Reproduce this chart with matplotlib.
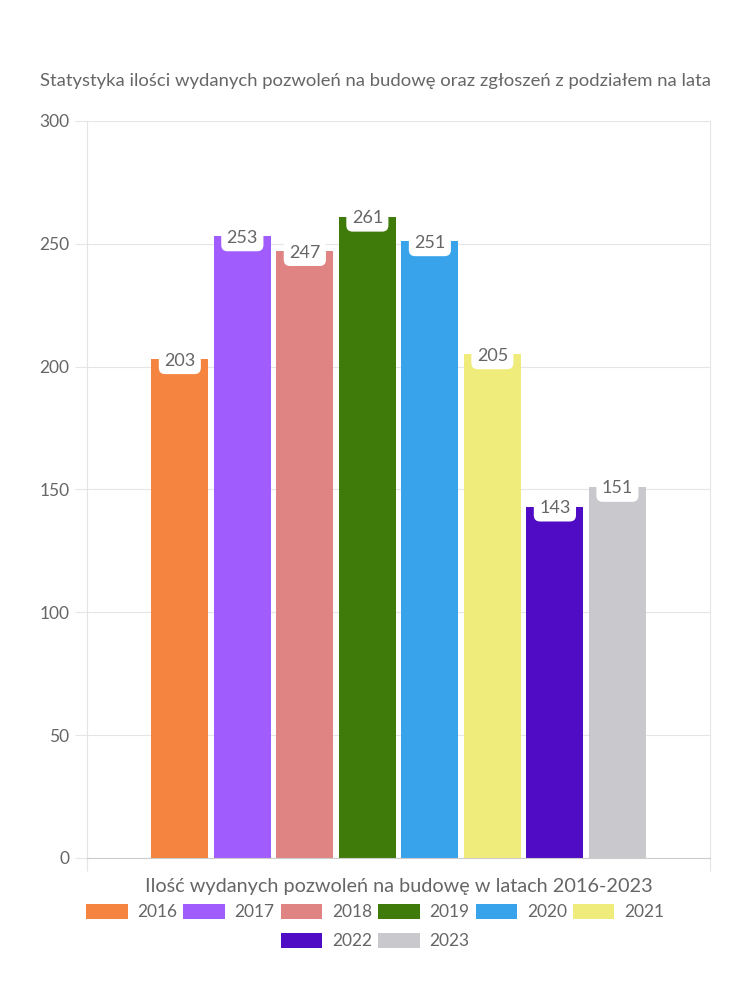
import matplotlib.pyplot as plt
from matplotlib.patches import Patch

# Data
years = ["2016", "2017", "2018", "2019", "2020", "2021", "2022", "2023"]
permits = [203, 253, 247, 261, 251, 205, 143, 151]
colors = ["#F4843F", "#A15CFD", "#E08483", "#3E7B0B", "#38A3EB",
          "#F0EC7C", "#500BC4", "#C9C9CD"]
title = "Statystyka ilości wydanych pozwoleń na budowę oraz zgłoszeń z podziałem na lata"
xlabel = "Ilość wydanych pozwoleń na budowę w latach 2016-2023"

TEXT = "#666666"
GRID = "#E5E5E5"

plt.rcParams['font.family'] = ['Lato', 'DejaVu Sans']

fig = plt.figure(figsize=(7.5, 10), dpi=100)
ax = fig.add_axes([0.116, 0.142, 0.831, 0.737])

x = list(range(len(years)))
ax.bar(x, permits, width=0.91, color=colors, zorder=2)

for xi, v in zip(x, permits):
    ax.annotate(str(v), (xi, v), xytext=(0, -1), textcoords="offset points",
                ha="center", va="center", fontsize=13, color=TEXT, zorder=3,
                bbox=dict(boxstyle="round,pad=0.3,rounding_size=0.35",
                          fc="white", ec="none"))

xmin, xmax = -1.485, 8.485
ax.set_xlim(xmin, xmax)
ax.set_ylim(0, 300)
ax.set_yticks([0, 50, 100, 150, 200, 250, 300])
ax.set_xticks([xmin, xmax])
ax.set_xticklabels([])
ax.grid(axis="y", color=GRID, lw=0.8, zorder=0)
for s in ["left", "right"]:
    ax.spines[s].set_color(GRID)
ax.spines["top"].set_visible(False)
ax.spines["bottom"].set_color("#CCCCCC")
ax.tick_params(axis="y", colors=GRID, labelcolor=TEXT, labelsize=12.5,
               length=9, width=0.8)
ax.tick_params(axis="x", colors=GRID, length=9, width=0.8)

ax.set_xlabel(xlabel, fontsize=14.3, color=TEXT, labelpad=2)
fig.text(0.5, 0.919, title, ha="center", va="center", fontsize=13.3, color=TEXT)

# legend in two centred rows, 6 + 2 items (fig.legend keeps both)
handles = [Patch(facecolor=c, label=y) for c, y in zip(colors, years)]
leg_kw = dict(frameon=False, fontsize=12.5, labelcolor=TEXT, handlelength=2.4,
              handleheight=1.0, handletextpad=0.55, columnspacing=0.35,
              borderpad=0, borderaxespad=0)
fig.legend(handles=handles[:6], loc="center", ncol=6,
           bbox_to_anchor=(0.5, 0.088), **leg_kw)
fig.legend(handles=handles[6:], loc="center", ncol=2,
           bbox_to_anchor=(0.5, 0.059), **leg_kw)

fig.savefig("out.png", dpi=100)
